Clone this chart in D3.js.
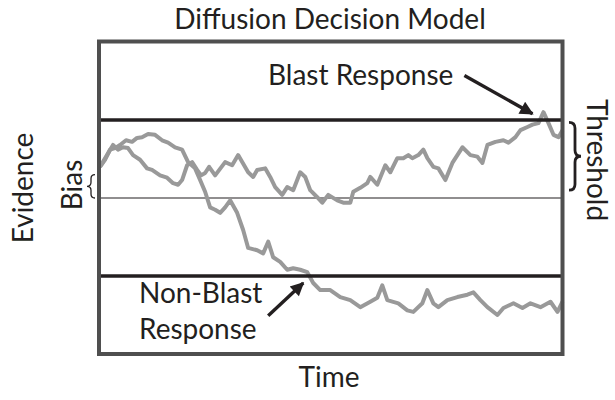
<!DOCTYPE html>
<html>
<head>
<meta charset="utf-8">
<script src="https://cdn.jsdelivr.net/npm/d3@7"></script>
<style>
    body { margin: 0; background: #fff; }
    text { font-family: Lato, "Open Sans", sans-serif; fill: #231f20; }
</style>
</head>
<body>
<div id="chartDiv"></div>
<script>
//Time steps (ms) and evidence for the walk that reaches the upper threshold
let blastTime = [0,7,13,18,23,28,33,40,47,52,60,67,73,78,82,87,92,97,101,105,
    109,115,125,132,138,148,153,157,165,170,175,182,187,193,200,205,210,217,222,228,
    237,243,250,253,260,267,270,277,285,290,297,303,308,312,318,323,327,333,338,345,
    352,362,370,377,382,387,395,403,408,415,420,427,432,438,443,448,453,458,462];
let blastEvidence = [0.40,0.55,0.68,0.62,0.65,0.64,0.55,0.49,0.38,0.36,
    0.29,0.26,0.19,0.17,0.23,0.42,0.46,0.36,0.29,0.32,
    0.40,0.29,0.46,0.42,0.55,0.33,0.27,0.36,0.38,0.27,
    0.14,0.04,0.14,0.10,0.33,0.27,0.10,0.01,-0.06,0.04,
    -0.03,-0.06,-0.06,0.08,0.13,0.19,0.27,0.17,0.42,0.33,
    0.51,0.51,0.55,0.51,0.55,0.62,0.51,0.40,0.38,0.23,
    0.45,0.65,0.55,0.53,0.45,0.68,0.72,0.74,0.71,0.78,
    0.87,0.91,0.94,0.96,1.10,0.96,0.81,0.78,0.87];

//Time steps and evidence for the walk that reaches the lower threshold
let nonBlastTime = [0,5,10,15,20,26,32,37,42,48,55,62,68,75,82,88,95,100,105,110,
    115,120,125,130,137,143,148,157,163,168,173,180,187,193,200,207,213,220,230,240,
    250,260,270,277,282,287,298,307,313,322,327,333,338,347,357,367,373,380,387,397,
    403,413,422,430,440,450,457,462];
let nonBlastEvidence = [0.40,0.49,0.62,0.64,0.68,0.74,0.72,0.77,0.78,0.82,
    0.81,0.74,0.71,0.65,0.62,0.46,0.38,0.23,0.08,-0.12,
    -0.15,-0.19,-0.12,-0.03,-0.19,-0.41,-0.64,-0.67,-0.71,-0.56,
    -0.76,-0.82,-0.92,-0.90,-0.92,-0.95,-1.09,-1.18,-1.18,-1.27,
    -1.31,-1.40,-1.33,-1.28,-1.12,-1.31,-1.35,-1.44,-1.46,-1.35,
    -1.18,-1.35,-1.40,-1.31,-1.27,-1.24,-1.21,-1.31,-1.40,-1.50,
    -1.41,-1.35,-1.41,-1.35,-1.40,-1.33,-1.46,-1.33];

//Decision boundaries and starting point
let thresholds = [1, -1];
let midline = 0;
let biasRange = [0, 0.3];
let thresholdRange = [0.97, 0.1];

//Set graph size
let svgWidth = 615;
let svgHeight = 400;
let frame = { left: 99, right: 562.5, top: 41.5, bottom: 354 };

//Scales
let x = d3.scaleLinear().domain([0, 462]).range([frame.left + 1, frame.right]);
let y = d3.scaleLinear().domain([-2, 2]).range([354, 42]);

let walkLine = d3.line()
    .x(function(d) { return x(d.t) })
    .y(function(d) { return y(d.e) });

let blastData = blastTime.map(function(t, i) { return { t: t, e: blastEvidence[i] } });
let nonBlastData = nonBlastTime.map(function(t, i) { return { t: t, e: nonBlastEvidence[i] } });

let svg = d3.select("#chartDiv")
    .append("svg")
    .attr("width", svgWidth)
    .attr("height", svgHeight);

//Arrow head
svg.append("defs").append("marker")
    .attr("id", "arrow")
    .attr("viewBox", "0 0 10 10")
    .attr("refX", 9)
    .attr("refY", 5)
    .attr("markerWidth", 4.6)
    .attr("markerHeight", 4.0)
    .attr("markerUnits", "strokeWidth")
    .attr("orient", "auto")
    .append("path")
    .attr("d", "M0,0 L10,5 L0,10 Z")
    .style("fill", "#231f20");

//Thin line through the middle
svg.append("line")
    .attr("x1", frame.left).attr("x2", frame.right)
    .attr("y1", y(midline)).attr("y2", y(midline))
    .style("stroke", "#231f20")
    .style("stroke-width", 1.1);

//Random walks
svg.append("path")
    .attr("d", walkLine(nonBlastData))
    .style("fill", "none")
    .style("stroke", "#999")
    .style("stroke-width", 4)
    .style("stroke-linejoin", "round");

svg.append("path")
    .attr("d", walkLine(blastData))
    .style("fill", "none")
    .style("stroke", "#999")
    .style("stroke-width", 4)
    .style("stroke-linejoin", "round");

//Upper and lower thresholds
svg.selectAll("line.threshold")
    .data(thresholds)
    .enter()
    .append("line")
    .attr("class", "threshold")
    .attr("x1", frame.left).attr("x2", frame.right)
    .attr("y1", function(d) { return y(d) })
    .attr("y2", function(d) { return y(d) })
    .style("stroke", "#231f20")
    .style("stroke-width", 3.6);

//Frame
svg.append("rect")
    .attr("x", frame.left)
    .attr("y", frame.top)
    .attr("width", frame.right - frame.left)
    .attr("height", frame.bottom - frame.top)
    .style("fill", "none")
    .style("stroke", "#4f4f4f")
    .style("stroke-width", 4);

//Curly brace, w > 0 points right, w < 0 points left
function brace(bx, y1, y2, w) {
    let ym = (y1 + y2) / 2;
    let h = w / 2;
    let r = Math.min(Math.abs(w) / 2, Math.abs(y2 - y1) / 4);
    return "M" + bx + "," + y1 +
        " Q" + (bx + h) + "," + y1 + " " + (bx + h) + "," + (y1 + r) +
        " L" + (bx + h) + "," + (ym - r) +
        " Q" + (bx + h) + "," + ym + " " + (bx + w) + "," + ym +
        " Q" + (bx + h) + "," + ym + " " + (bx + h) + "," + (ym + r) +
        " L" + (bx + h) + "," + (y2 - r) +
        " Q" + (bx + h) + "," + y2 + " " + bx + "," + y2;
}

svg.append("path")
    .attr("d", brace(569, y(thresholdRange[0]), y(thresholdRange[1]), 12))
    .style("fill", "none")
    .style("stroke", "#231f20")
    .style("stroke-width", 2.8);

svg.append("path")
    .attr("d", brace(95, y(biasRange[1]), y(biasRange[0]), -8))
    .style("fill", "none")
    .style("stroke", "#231f20")
    .style("stroke-width", 1.3);

//Arrows pointing at the crossings
svg.append("line")
    .attr("x1", x(364)).attr("y1", y(1.57))
    .attr("x2", x(432)).attr("y2", y(1.08))
    .style("stroke", "#231f20")
    .style("stroke-width", 3.4)
    .attr("marker-end", "url(#arrow)");

svg.append("line")
    .attr("x1", x(168)).attr("y1", y(-1.51))
    .attr("x2", x(203)).attr("y2", y(-1.09))
    .style("stroke", "#231f20")
    .style("stroke-width", 3.4)
    .attr("marker-end", "url(#arrow)");

//Texts
svg.append("text")
    .attr("x", 330).attr("y", 29)
    .style("text-anchor", "middle")
    .style("font-size", "28px")
    .text("Diffusion Decision Model");

svg.append("text")
    .attr("x", 268).attr("y", 85)
    .style("font-size", "28px")
    .text("Blast Response");

svg.append("text")
    .attr("x", 139).attr("y", 303)
    .style("font-size", "28px")
    .text("Non-Blast");

svg.append("text")
    .attr("x", 139).attr("y", 339)
    .style("font-size", "28px")
    .text("Response");

svg.append("text")
    .attr("x", 329).attr("y", 387)
    .style("text-anchor", "middle")
    .style("font-size", "28px")
    .text("Time");

svg.append("text")
    .attr("transform", "translate(33,188) rotate(-90)")
    .style("text-anchor", "middle")
    .style("font-size", "28px")
    .text("Evidence");

svg.append("text")
    .attr("transform", "translate(82,185) rotate(-90)")
    .style("text-anchor", "middle")
    .style("font-size", "28px")
    .text("Bias");

svg.append("text")
    .attr("transform", "translate(587,160) rotate(90)")
    .style("text-anchor", "middle")
    .style("font-size", "28px")
    .text("Threshold");
</script>
</body>
</html>
